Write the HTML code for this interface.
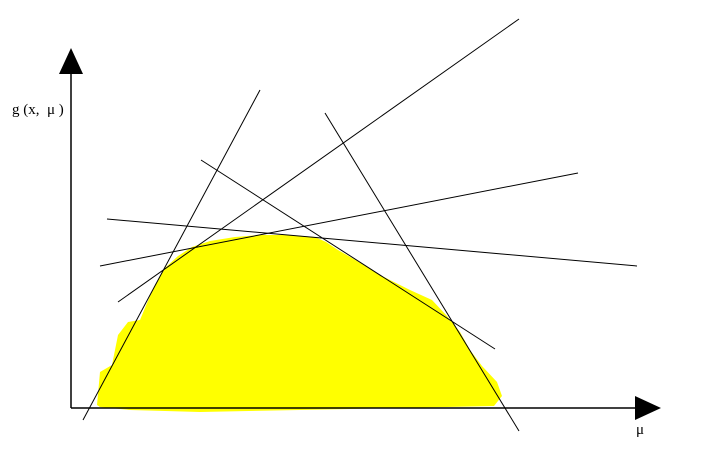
<!DOCTYPE html>
<html><head><meta charset="utf-8"><style>
html,body{margin:0;padding:0;background:#fff;}
svg{display:block;}
text{font-family:"Liberation Serif",serif;font-size:15px;fill:#000;}
</style></head><body>
<svg width="711" height="462" viewBox="0 0 711 462">
<polygon fill="#ffff00" points="97,405 100,372 112,365 118,335 128,322 140,320 147,303 155,285 165,268 178,256 192,247 210,241 235,237 260,235 290,235 315,237 326,242 338,250 352,258 380,275 410,290 432,300 447,316 460,332 470,350 482,366 497,382 502,396 494,406 400,408 300,410 200,412 130,410 100,407"/>
<g stroke="#000" stroke-width="1" fill="none">
<line x1="83" y1="420" x2="260" y2="90"/>
<line x1="118" y1="302" x2="519" y2="19"/>
<line x1="201" y1="160" x2="495" y2="349"/>
<line x1="325" y1="113" x2="519" y2="431"/>
<line x1="100" y1="266" x2="578" y2="173"/>
<line x1="107" y1="219" x2="637" y2="266"/>
<line x1="71" y1="408" x2="71" y2="70" stroke-width="1.5"/>
<line x1="71" y1="408" x2="640" y2="408" stroke-width="1.5"/>
</g>
<polygon points="71,48 59,74 83,74" fill="#000"/>
<polygon points="661,408 635,396 635,420" fill="#000"/>
<text x="12" y="114" xml:space="preserve" style="white-space:pre">g (x,  μ )</text>
<text x="636" y="434">μ</text>
</svg>
</body></html>
